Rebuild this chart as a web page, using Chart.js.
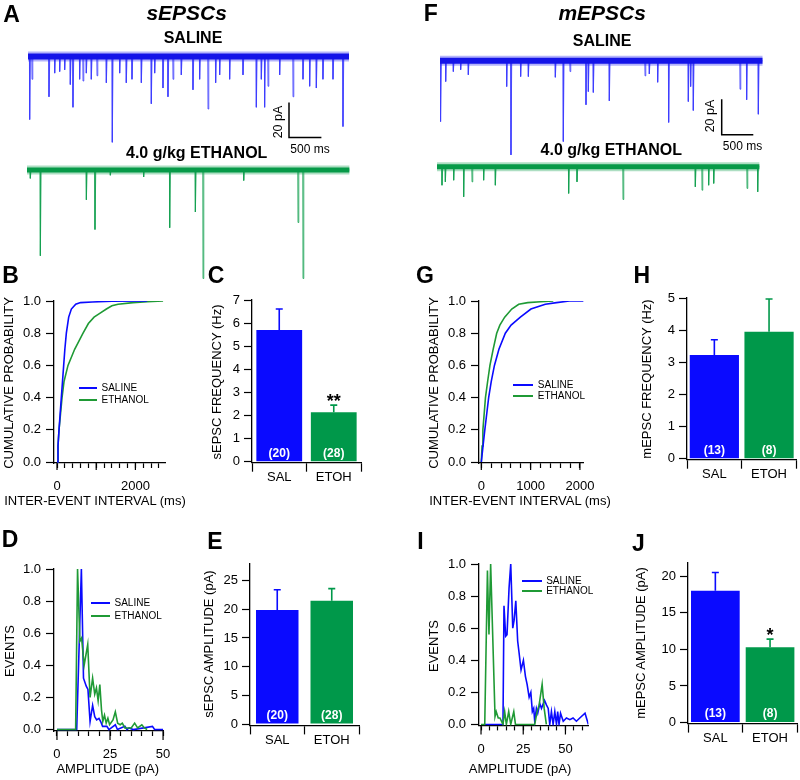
<!DOCTYPE html>
<html>
<head>
<meta charset="utf-8">
<script src="https://cdn.jsdelivr.net/npm/chart.js@4.4.1/dist/chart.umd.min.js"></script>
<style>
  body { margin: 0; width: 800px; height: 780px; position: relative; background: #fff; overflow: hidden;
         font-family: "Liberation Sans", Arial, Helvetica, sans-serif; }
  canvas { position: absolute; }
  .t { position: absolute; white-space: nowrap; line-height: 1; color: #000; }
  .ln { position: absolute; height: 2px; }
</style>
</head>
<body>
<script>
// ---- data ----
// A: sEPSC traces, event times (ms) and peak amplitude from baseline (pA)
const sSalTimes = [26, 62, 324, 412, 489, 566, 653, 694, 797, 849, 900, 977, 1065, 1209, 1301, 1415, 1517, 1605, 1749, 1903, 1955, 2083, 2160, 2238, 2366, 2546, 2649, 2778, 2896, 2958, 3112, 3318, 3524, 3601, 3652, 3704, 3884, 4090, 4244, 4347, 4450, 4552, 4707, 4861];
const sSalAmps  = [-36, -13, -23, -9.5, -8.6, -7.6, -16, -29, -13, -14, -9.5, -13, -11, -15, -49, -9.5, -15, -13, -15, -27, -9.5, -18, -23, -13, -10.5, -19, -13, -30, -15, -10.5, -13, -10.5, -29, -13, -29, -17, -10.5, -23, -13, -17, -18, -13, -13, -40];
const sEtoTimes = [51, 206, 916, 1049, 1286, 1800, 2202, 2598, 2716, 3344, 4182, 4259];
const sEtoAmps  = [-4.8, -49, -17, -34, -3, -4, -33, -24, -62, -6, -30, -62];
// F: mEPSC traces
const mSalTimes = [11, 90, 211, 327, 448, 1055, 1123, 1276, 1398, 1825, 1951, 2057, 2310, 2347, 2426, 2679, 3244, 3312, 3444, 3618, 3929, 3966, 4008, 4747, 4852, 5037];
const mSalAmps  = [-34, -11.6, -6, -5, -7.8, -14.4, -52.7, -8.8, -8.8, -9.2, -45.2, -6, -24.6, -17.2, -17.7, -22.4, -8.4, -7.3, -12, -34.5, -22.8, -14.4, -27.8, -15.9, -21.8, -29.9];
const mEtoTimes = [79, 132, 264, 422, 554, 738, 923, 2083, 2215, 2943, 4087, 4193, 4298, 4378, 4905, 5074];
const mEtoAmps  = [-10.3, -8.4, -7.5, -16.8, -8.4, -7.5, -10.3, -14.9, -8.4, -18.3, -11.2, -13.1, -10.3, -9.3, -12.1, -14];

// B / G: cumulative inter-event interval (ms, probability)
const ieiSalB = [{x:0,y:0},{x:25,y:0.1},{x:51,y:0.2},{x:80,y:0.3},{x:110,y:0.4},{x:140,y:0.5},{x:170,y:0.6},{x:200,y:0.7},{x:238,y:0.8},{x:298,y:0.9},{x:366,y:0.95},{x:477,y:0.98},{x:600,y:0.99},{x:900,y:0.994},{x:1400,y:0.998},{x:2300,y:1}];
const ieiEtoB = [{x:0,y:0},{x:25,y:0.1},{x:51,y:0.2},{x:90,y:0.3},{x:128,y:0.4},{x:179,y:0.5},{x:280,y:0.6},{x:450,y:0.7},{x:664,y:0.8},{x:800,y:0.86},{x:945,y:0.9},{x:1100,y:0.925},{x:1260,y:0.95},{x:1400,y:0.97},{x:1557,y:0.98},{x:1940,y:0.99},{x:2300,y:0.996},{x:2706,y:1}];
const ieiSalG = [{x:0,y:0},{x:35,y:0.1},{x:71,y:0.2},{x:110,y:0.3},{x:149,y:0.4},{x:201,y:0.5},{x:266,y:0.6},{x:357,y:0.7},{x:487,y:0.8},{x:604,y:0.85},{x:792,y:0.9},{x:1006,y:0.95},{x:1298,y:0.98},{x:1525,y:0.99},{x:1785,y:1},{x:2077,y:1}];
const ieiEtoG = [{x:0,y:0},{x:15,y:0.1},{x:32,y:0.2},{x:58,y:0.3},{x:84,y:0.4},{x:128,y:0.5},{x:175,y:0.6},{x:240,y:0.7},{x:312,y:0.8},{x:376,y:0.85},{x:474,y:0.9},{x:617,y:0.95},{x:759,y:0.98},{x:941,y:0.99},{x:1200,y:0.995},{x:1460,y:1}];

// D / I: normalised amplitude distributions (pA, events)
const ampSalD = [{x:0,y:0},{x:9.3,y:0},{x:11.5,y:1},{x:12.5,y:0.32},{x:13.8,y:0.27},{x:14.6,y:0.25},{x:15.6,y:0.05},{x:16.8,y:0.15},{x:17.8,y:0.08},{x:18.7,y:0.06},{x:19.8,y:0.07},{x:20.6,y:0.05},{x:21.5,y:0.02},{x:23.5,y:0.02},{x:24.5,y:0},{x:27.5,y:0.03},{x:28.5,y:0},{x:32,y:0.02},{x:33,y:0},{x:34,y:0.01},{x:36,y:0},{x:45,y:0.02},{x:46,y:0},{x:50,y:0}];
const ampEtoD = [{x:0,y:0},{x:8.8,y:0},{x:9.7,y:1},{x:10.8,y:0.55},{x:11.6,y:0.57},{x:12.8,y:0.4},{x:14.5,y:0.53},{x:15.6,y:0.2},{x:16.8,y:0.32},{x:17.8,y:0.22},{x:18.6,y:0.26},{x:19.4,y:0.18},{x:20.2,y:0.28},{x:21,y:0.12},{x:21.6,y:0.05},{x:22.4,y:0.09},{x:23.2,y:0.04},{x:24,y:0.07},{x:24.8,y:0.03},{x:26.4,y:0.06},{x:27.5,y:0.11},{x:28.6,y:0.04},{x:29.8,y:0.03},{x:30.8,y:0.04},{x:32,y:0.01},{x:35,y:0.01},{x:36.6,y:0.04},{x:38,y:0.01},{x:40,y:0.03},{x:41.2,y:0.01},{x:42.5,y:0}];
const ampSalI = [{x:2.2,y:0},{x:13,y:0},{x:13.6,y:0.74},{x:14.6,y:0.55},{x:15.4,y:0.56},{x:16.6,y:0.85},{x:17.6,y:1},{x:18.8,y:0.6},{x:19.6,y:0.65},{x:20.6,y:0.77},{x:21.7,y:0.52},{x:22.5,y:0.45},{x:23.7,y:0.34},{x:25.1,y:0.4},{x:26.3,y:0.3},{x:27.3,y:0.25},{x:28.5,y:0.17},{x:29.5,y:0.2},{x:30.4,y:0.08},{x:31.2,y:0.1},{x:31.8,y:0.02},{x:32.8,y:0.1},{x:33.6,y:0.07},{x:34.8,y:0.13},{x:35.8,y:0.1},{x:37.6,y:0.15},{x:38.8,y:0.12},{x:39.8,y:0.1},{x:40.7,y:0},{x:41.7,y:0.08},{x:42.7,y:0},{x:43.7,y:0.08},{x:44.7,y:0},{x:45.4,y:0.08},{x:46.2,y:0},{x:47.1,y:0.07},{x:48.7,y:0.02},{x:50.6,y:0.04},{x:52.6,y:0.03},{x:54.5,y:0.04},{x:56.5,y:0.02},{x:58.5,y:0.04},{x:61.6,y:0.07},{x:63.6,y:0}];
const ampEtoI = [{x:0,y:0},{x:2.2,y:0},{x:3.8,y:0.96},{x:4.7,y:0.56},{x:5.7,y:1},{x:8.3,y:0.05},{x:9,y:0.08},{x:10.2,y:0.04},{x:11.2,y:0.04},{x:13,y:0},{x:14,y:0.08},{x:15,y:0},{x:16.4,y:0.08},{x:17.6,y:0},{x:19.4,y:0.08},{x:20.4,y:0},{x:31.8,y:0},{x:33.2,y:0.08},{x:34.4,y:0.12},{x:36.2,y:0.25},{x:37.4,y:0.1},{x:38.7,y:0}];

// bar panels
const groups = ['SAL', 'ETOH'];
const freqS = [5.70, 2.14], freqSErr = [0.91, 0.31], nS = ['(20)', '(28)'];
const ampS  = [19.9, 21.5], ampSErr  = [3.5, 2.1];
const freqM = [3.23, 3.95], freqMErr = [0.47, 1.02], nM = ['(13)', '(8)'];
const ampM  = [18.0, 10.3], ampMErr  = [2.5, 1.1];

// tick values
const probTicks = [0, 0.2, 0.4, 0.6, 0.8, 1.0];
const ieiTicksB = [0, 200, 400, 600, 800, 1000, 1200, 1400, 1600, 1800, 2000, 2200, 2400, 2600];
const ieiTicksG = [0, 200, 400, 600, 800, 1000, 1200, 1400, 1600, 1800, 2000];
const ampTicksD = [0, 5, 10, 15, 20, 25, 30, 35, 40, 45, 50];
const ampTicksI = [0, 5, 10, 15, 20, 25, 30, 35, 40, 45, 50, 55, 60];

// ---- styling / helpers ----
const FONT = '"Liberation Sans", Arial, Helvetica, sans-serif';
const BLUE = '#0a0aff', GREEN = '#00984a', LGREEN = '#1f9a35';
const TICK_FONT = 13;
Chart.defaults.font.family = FONT;
Chart.defaults.color = '#000';
Chart.defaults.animation = false;
Chart.defaults.events = [];
Chart.defaults.plugins.legend.display = false;
Chart.defaults.plugins.tooltip.enabled = false;

const PAD = 18;
function place(cfg, area, yW, xH) {
  const c = document.createElement('canvas');
  const aw = area[2] - area[0], ah = area[3] - area[1];
  const w = Math.ceil(aw + yW + 2 * PAD), h = Math.ceil(ah + xH + 2 * PAD);
  c.width = w; c.height = h;
  c.style.width = w + 'px'; c.style.height = h + 'px';
  document.body.appendChild(c);
  cfg.options.responsive = false;
  cfg.options.devicePixelRatio = 1;
  cfg.options.layout = { padding: { left: PAD, top: PAD, right: w - PAD - yW - aw, bottom: h - PAD - xH - ah } };
  const ch = new Chart(c, cfg);
  const ca = ch.chartArea;
  c.style.left = (area[0] - ca.left) + 'px';
  c.style.top = (area[1] - ca.top) + 'px';
  return ch;
}

function txt(s, x, y, size, o = {}) {
  const d = document.createElement('div');
  d.className = 't';
  d.textContent = s;
  d.style.left = x + 'px'; d.style.top = y + 'px'; d.style.fontSize = size + 'px';
  if (o.bold) d.style.fontWeight = 'bold';
  if (o.italic) d.style.fontStyle = 'italic';
  let tr = o.left ? 'translate(0,-50%)' : 'translate(-50%,-50%)';
  if (o.rot) tr += ' rotate(-90deg)';
  d.style.transform = tr;
  document.body.appendChild(d);
}

function legendItem(x1, x2, y, color, label) {
  const l = document.createElement('div');
  l.className = 'ln';
  l.style.left = x1 + 'px'; l.style.top = (y - 1) + 'px'; l.style.width = (x2 - x1) + 'px';
  l.style.background = color;
  document.body.appendChild(l);
  txt(label, x2 + 4.5, y, 10, { left: true });
}

function linAxis(min, max, ticks, label, o) {
  return {
    type: 'linear', min, max,
    afterBuildTicks: s => { s.ticks = ticks.map(v => ({ value: v })); },
    afterFit: s => { if (o.w !== undefined) s.width = o.w; if (o.h !== undefined) s.height = o.h; },
    ticks: { callback: label, autoSkip: false, maxRotation: 0, padding: o.pad, color: '#000', font: { size: TICK_FONT } },
    grid: { display: true, drawOnChartArea: false, drawTicks: true, tickLength: o.tl, tickColor: '#000', tickWidth: 1.2 },
    border: { display: true, color: '#000', width: 1.3 }
  };
}

// longer tick marks at the labelled x values
const majorTicks = {
  id: 'majorTicks',
  afterDraw(chart, args, o) {
    if (!o.vals) return;
    const x = chart.scales.x, ctx = chart.ctx;
    ctx.save();
    ctx.strokeStyle = '#000'; ctx.lineWidth = 1.2;
    ctx.beginPath();
    o.vals.forEach(v => { const p = x.getPixelForValue(v); ctx.moveTo(p, x.top); ctx.lineTo(p, x.top + o.len); });
    ctx.stroke();
    ctx.restore();
  }
};

// error bars, n labels and significance stars on the bar charts
const barExtras = {
  id: 'barExtras',
  afterDatasetsDraw(chart, args, o) {
    if (!o.err) return;
    const ctx = chart.ctx, y = chart.scales.y;
    const vals = chart.data.datasets[0].data;
    chart.getDatasetMeta(0).data.forEach((bar, i) => {
      const top = y.getPixelForValue(vals[i]), e = y.getPixelForValue(vals[i] + o.err[i]);
      ctx.save();
      ctx.strokeStyle = o.colors[i]; ctx.lineWidth = 1.6;
      ctx.beginPath();
      ctx.moveTo(bar.x, top); ctx.lineTo(bar.x, e);
      ctx.moveTo(bar.x - 3.5, e); ctx.lineTo(bar.x + 3.5, e);
      ctx.stroke();
      ctx.fillStyle = '#fff'; ctx.font = 'bold 12px ' + FONT;
      ctx.textAlign = 'center'; ctx.textBaseline = 'middle';
      ctx.fillText(o.n[i], bar.x, y.getPixelForValue(0) - 8.5);
      if (o.star && o.star[i]) {
        ctx.fillStyle = '#000'; ctx.font = 'bold 18px ' + FONT; ctx.textBaseline = 'alphabetic';
        ctx.fillText(o.star[i], bar.x, e + 1.5);
      }
      ctx.restore();
    });
  }
};

// calibration bar drawn with the trace scales
const scaleBar = {
  id: 'scaleBar',
  afterDraw(chart, args, o) {
    if (!o.at) return;
    const { x, y } = chart.scales, ctx = chart.ctx, ca = chart.chartArea;
    const px = ca.left + o.at[0] - o.area[0], py = ca.top + o.at[1] - o.area[1];
    const h = Math.abs(y.getPixelForValue(0) - y.getPixelForValue(o.pA));
    const w = x.getPixelForValue(o.ms) - x.getPixelForValue(0);
    ctx.save();
    ctx.strokeStyle = '#000'; ctx.lineWidth = 1.5;
    ctx.beginPath(); ctx.moveTo(px, py - h); ctx.lineTo(px, py); ctx.lineTo(px + w, py); ctx.stroke();
    ctx.restore();
  }
};

function spikeData(times, amps, end) {
  const d = [{ x: 0, y: 0 }];
  times.forEach((t, i) => { d.push({ x: t - 4, y: 0 }, { x: t, y: amps[i] }, { x: t + 12, y: 0 }); });
  d.push({ x: end, y: 0 });
  return d;
}

function trace(area, end, ymin, ymax, times, amps, col, spikeCol, fringe, core, bar) {
  const base = [{ x: 0, y: 0 }, { x: end, y: 0 }];
  return place({
    type: 'line',
    data: { datasets: [
      { data: spikeData(times, amps, end), borderColor: spikeCol, borderWidth: 1, pointRadius: 0, order: 3 },
      { data: base, borderColor: fringe, borderWidth: core + 4, pointRadius: 0, order: 2 },
      { data: base, borderColor: col, borderWidth: core, pointRadius: 0, order: 1 }
    ] },
    options: {
      scales: { x: { type: 'linear', display: false, min: 0, max: end }, y: { display: false, min: ymin, max: ymax } },
      plugins: { scaleBar: bar ? Object.assign({ area }, bar) : {} }
    },
    plugins: [scaleBar]
  }, area, 0, 0);
}

function curvePanel(area, xmin, xmax, xticks, xlabels, sal, eto, majors, majLen) {
  return place({
    type: 'line',
    data: { datasets: [
      { data: sal, borderColor: BLUE, borderWidth: 1.6, pointRadius: 0, order: 1 },
      { data: eto, borderColor: LGREEN, borderWidth: 1.6, pointRadius: 0, order: 2 }
    ] },
    options: {
      scales: {
        x: linAxis(xmin, xmax, xticks, v => xlabels.includes(v) ? String(v) : '', { h: 40, tl: 5, pad: 11 }),
        y: linAxis(-0.006, 1, probTicks, v => v.toFixed(1), { w: 40, tl: 8, pad: 5 })
      },
      plugins: { majorTicks: { vals: majors, len: majLen } }
    },
    plugins: [majorTicks]
  }, area, 40, 40);
}

function histPanel(area, xmin, xmax, xticks, sal, eto, ymin) {
  return place({
    type: 'line',
    data: { datasets: [
      { data: sal, borderColor: BLUE, borderWidth: 1.6, pointRadius: 0, order: 2 },
      { data: eto, borderColor: LGREEN, borderWidth: 1.6, pointRadius: 0, order: 1 }
    ] },
    options: {
      scales: {
        x: linAxis(xmin, xmax, xticks, v => [0, 25, 50].includes(v) ? String(v) : '', { h: 40, tl: 5, pad: 11 }),
        y: linAxis(ymin, 1, probTicks, v => v.toFixed(1), { w: 40, tl: 8, pad: 5 })
      },
      plugins: { majorTicks: { vals: [0, 25, 50], len: 9 } }
    },
    plugins: [majorTicks]
  }, area, 40, 40);
}

function barPanel(area, ymin, ymax, yticks, vals, err, n, star, pct) {
  return place({
    type: 'bar',
    data: { labels: groups, datasets: [{ data: vals, backgroundColor: [BLUE, GREEN], borderWidth: 0,
            barPercentage: pct, categoryPercentage: 1 }] },
    options: {
      scales: {
        x: {
          type: 'category', offset: true,
          afterFit: s => { s.height = 40; },
          ticks: { padding: -2, color: '#000', font: { size: 13 } },
          grid: { display: true, offset: true, drawOnChartArea: false, drawTicks: true, tickLength: 9, tickColor: '#000', tickWidth: 1.2 },
          border: { display: true, color: '#000', width: 1.3 }
        },
        y: linAxis(ymin, ymax, yticks, v => String(v), { w: 40, tl: 8, pad: 4 })
      },
      plugins: { barExtras: { err, n, star, colors: [BLUE, GREEN] } }
    },
    plugins: [barExtras]
  }, area, 40, 40);
}

// ---- traces ----
trace([28.3, 39.2, 349.3, 153], 4954, -55, 10, sSalTimes, sSalAmps, '#1414e8', 'rgba(60,60,255,0.8)', 'rgba(40,40,240,0.35)', 6,
      { at: [289.3, 137.7], pA: 20, ms: 500 });
trace([26.7, 156, 349.3, 283.75], 4978, -65, 8, sEtoTimes, sEtoAmps, '#079a48', 'rgba(20,160,80,0.8)', 'rgba(20,160,80,0.35)', 5);
trace([440, 43.15, 762.7, 168.1], 5106, -60, 10, mSalTimes, mSalAmps, '#1414e8', 'rgba(60,60,255,0.8)', 'rgba(40,40,240,0.35)', 6,
      { at: [721.7, 135], pA: 20, ms: 500 });
trace([436.7, 148.85, 759.3, 211.3], 5104, -25, 10, mEtoTimes, mEtoAmps, '#079a48', 'rgba(20,160,80,0.8)', 'rgba(20,160,80,0.35)', 5);

// ---- cumulative probability ----
curvePanel([54.3, 300.7, 166, 462.7], -77, 2773, ieiTicksB, [0, 2000], ieiSalB, ieiEtoB, [0, 1000, 2000], 7);
curvePanel([479.3, 300.7, 588, 462.7], -47, 2072, ieiTicksG, [0, 1000, 2000], ieiSalG, ieiEtoG, [0, 1000, 2000], 7);

// ---- amplitude distributions ----
histPanel([54.3, 568.7, 164, 730.7], -1.4, 50.3, ampTicksD, ampSalD, ampEtoD, -0.009);
histPanel([479.3, 564.3, 588.7, 725.7], -1.2, 63.6, ampTicksI, ampSalI, ampEtoI, -0.006);

// ---- bar charts ----
barPanel([251.7, 300, 360.7, 462.7], -0.043, 7, [0, 1, 2, 3, 4, 5, 6, 7], freqS, freqSErr, nS, ['', '**'], 0.84);
barPanel([250, 564.3, 359, 725.7], -0.244, 27.9, [0, 5, 10, 15, 20, 25], ampS, ampSErr, nS, null, 0.78);
barPanel([687.3, 298.3, 796.7, 460], -0.031, 5, [0, 1, 2, 3, 4, 5], freqM, freqMErr, nM, null, 0.9);
barPanel([688.3, 562.7, 797.7, 723.3], -0.137, 21.8, [0, 5, 10, 15, 20], ampM, ampMErr, nM, ['', '*'], 0.89);

// ---- text ----
txt('A', 11.5, 13.5, 23, { bold: true });
txt('sEPSCs', 186.7, 12, 21, { bold: true, italic: true });
txt('SALINE', 193, 38.3, 16, { bold: true });
txt('4.0 g/kg ETHANOL', 196.7, 153.3, 16, { bold: true });
txt('20 pA', 278.3, 122, 12.5, { rot: true });
txt('500 ms', 310, 149, 12);

txt('F', 430.8, 13, 23, { bold: true });
txt('mEPSCs', 602.2, 12, 21, { bold: true, italic: true });
txt('SALINE', 602.2, 40.7, 16, { bold: true });
txt('4.0 g/kg ETHANOL', 611.3, 150, 16, { bold: true });
txt('20 pA', 710, 116, 12.5, { rot: true });
txt('500 ms', 742.5, 145.7, 12);

txt('B', 10.5, 274.5, 23, { bold: true });
txt('C', 216, 274.5, 23, { bold: true });
txt('G', 425, 274.5, 23, { bold: true });
txt('H', 641.7, 274.5, 23, { bold: true });
txt('D', 10, 539, 23, { bold: true });
txt('E', 215, 541, 23, { bold: true });
txt('I', 420.5, 540.5, 23, { bold: true });
txt('J', 638.5, 542.5, 23, { bold: true });

txt('CUMULATIVE PROBABILITY', 7.5, 382.5, 13, { rot: true });
txt('INTER-EVENT INTERVAL (ms)', 95, 500, 13);
txt('sEPSC FREQUENCY (Hz)', 215.8, 381.7, 13, { rot: true });
txt('CUMULATIVE PROBABILITY', 433, 382.5, 13, { rot: true });
txt('INTER-EVENT INTERVAL (ms)', 520, 500, 13);
txt('mEPSC FREQUENCY (Hz)', 646, 379, 13, { rot: true });
txt('EVENTS', 9.2, 651, 13, { rot: true });
txt('AMPLITUDE (pA)', 107.7, 768, 13);
txt('sEPSC AMPLITUDE (pA)', 207.5, 644, 13, { rot: true });
txt('EVENTS', 433, 646, 13, { rot: true });
txt('AMPLITUDE (pA)', 520, 768.3, 13);
txt('mEPSC AMPLITUDE (pA)', 640, 642.5, 13, { rot: true });

legendItem(79, 97, 388.3, BLUE, 'SALINE');
legendItem(79, 97, 400, LGREEN, 'ETHANOL');
legendItem(513.3, 533.3, 385, BLUE, 'SALINE');
legendItem(513.3, 533.3, 396, LGREEN, 'ETHANOL');
legendItem(90.7, 110, 602.7, BLUE, 'SALINE');
legendItem(90.7, 110, 615.7, LGREEN, 'ETHANOL');
legendItem(521.7, 541.7, 581, BLUE, 'SALINE');
legendItem(521.7, 541.7, 591, LGREEN, 'ETHANOL');
</script>
</body>
</html>
